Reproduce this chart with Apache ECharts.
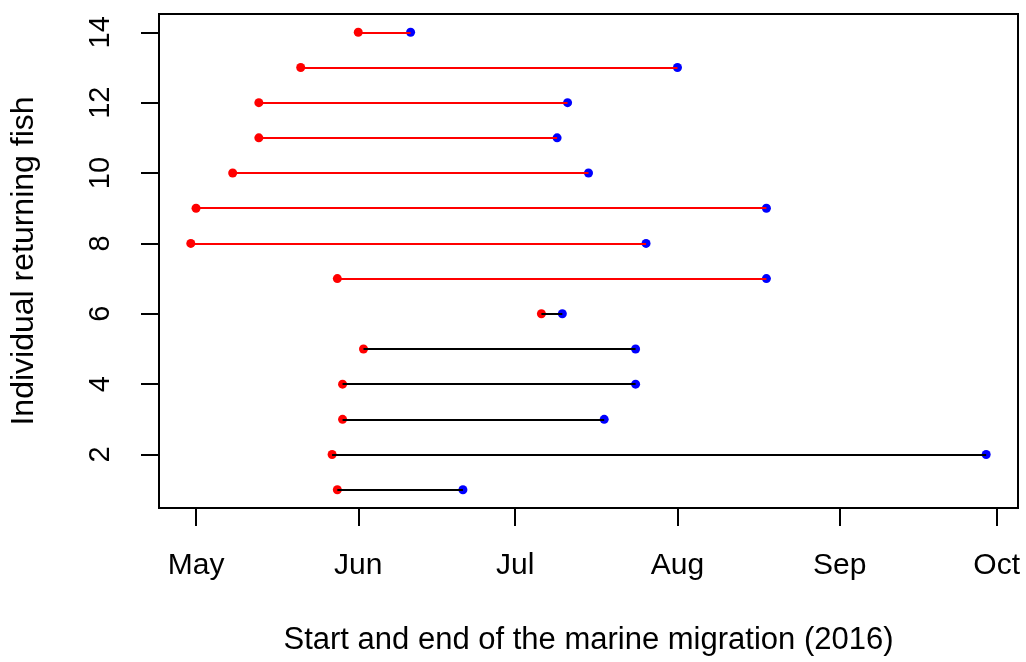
<!DOCTYPE html>
<html>
<head>
<meta charset="utf-8">
<script src="https://cdn.jsdelivr.net/npm/echarts@6/dist/echarts.min.js"></script>
<style>
html,body{margin:0;padding:0;background:#fff;}
#chart{width:1026px;height:662px;}
</style>
</head>
<body>
<div id="chart"></div>
<script>
// ---- data ----
const fishIds = [1, 2, 3, 4, 5, 6, 7, 8, 9, 10, 11, 12, 13, 14];
const startDates = ['2016-05-28','2016-05-27','2016-05-29','2016-05-29','2016-06-02','2016-07-06','2016-05-28',
                    '2016-04-30','2016-05-01','2016-05-08','2016-05-13','2016-05-13','2016-05-21','2016-06-01'];
const endDates   = ['2016-06-21','2016-09-29','2016-07-18','2016-07-24','2016-07-24','2016-07-10','2016-08-18',
                    '2016-07-26','2016-08-18','2016-07-15','2016-07-09','2016-07-11','2016-08-01','2016-06-11'];
const segmentGroup = ['A','A','A','A','A','A','B','B','B','B','B','B','B','B'];
const monthTickDates = ['2016-05-01','2016-06-01','2016-07-01','2016-08-01','2016-09-01','2016-10-01'];
const monthLabels = ['May','Jun','Jul','Aug','Sep','Oct'];
const yTickValues = [2, 4, 6, 8, 10, 12, 14];
const xTitle = 'Start and end of the marine migration (2016)';
const yTitle = 'Individual returning fish';

// ---- helpers ----
const base = Date.UTC(2016, 0, 1);
function dayNum(s) {
  const p = s.split('-').map(Number);
  return (Date.UTC(p[0], p[1] - 1, p[2]) - base) / 86400000;
}
const starts = startDates.map(dayNum);
const ends = endDates.map(dayNum);
const monthTicks = monthTickDates.map(dayNum);
const allX = starts.concat(ends);
const xMinD = Math.min.apply(null, allX), xMaxD = Math.max.apply(null, allX);
const xPad = (xMaxD - xMinD) * 0.04;
const yMinD = Math.min.apply(null, fishIds), yMaxD = Math.max.apply(null, fishIds);
const yPad = (yMaxD - yMinD) * 0.04;
const groupColor = { A: '#000000', B: '#ff0000' };

const FONT = 'Liberation Sans, Arial, sans-serif';

const chart = echarts.init(document.getElementById('chart'), null, { renderer: 'canvas' });
chart.setOption({
  animation: false,
  backgroundColor: '#ffffff',
  grid: { left: 157, top: 14, width: 861, height: 494, show: true, borderColor: '#000', borderWidth: 2, backgroundColor: 'transparent' },
  xAxis: {
    type: 'value',
    min: xMinD - xPad,
    max: xMaxD + xPad,
    splitLine: { show: false },
    axisLine: { show: false },
    axisTick: { show: true, customValues: monthTicks, length: 18, lineStyle: { color: '#000', width: 2 } },
    axisLabel: {
      customValues: monthTicks,
      formatter: function (v) { const i = monthTicks.indexOf(v); return i >= 0 ? monthLabels[i] : ''; },
      color: '#000', fontFamily: FONT, fontSize: 30, margin: 43
    },
    name: xTitle,
    nameLocation: 'middle',
    nameGap: 117,
    nameTextStyle: { color: '#000', fontFamily: FONT, fontSize: 31 }
  },
  yAxis: {
    type: 'value',
    min: yMinD - yPad,
    max: yMaxD + yPad,
    splitLine: { show: false },
    axisLine: { show: false },
    axisTick: { show: true, customValues: yTickValues, length: 18, lineStyle: { color: '#000', width: 2 } },
    axisLabel: {
      customValues: yTickValues,
      rotate: 90,
      color: '#000', fontFamily: FONT, fontSize: 29, margin: 44
    },
    name: yTitle,
    nameLocation: 'middle',
    nameGap: 119,
    nameTextStyle: { color: '#000', fontFamily: FONT, fontSize: 32 }
  },
  series: [
    {
      type: 'scatter',
      name: 'start',
      z: 2,
      symbol: 'circle',
      symbolSize: 9,
      itemStyle: { color: '#ff0000', opacity: 1 },
      data: fishIds.map(function (id, i) { return [starts[i], id]; })
    },
    {
      type: 'scatter',
      name: 'end',
      z: 2,
      symbol: 'circle',
      symbolSize: 9,
      itemStyle: { color: '#0000ff', opacity: 1 },
      data: fishIds.map(function (id, i) { return [ends[i], id]; })
    },
    {
      type: 'lines',
      coordinateSystem: 'cartesian2d',
      z: 3,
      polyline: false,
      lineStyle: { width: 2, opacity: 1 },
      data: fishIds.map(function (id, i) {
        return { coords: [[starts[i], id], [ends[i], id]], lineStyle: { color: groupColor[segmentGroup[i]] } };
      })
    }
  ]
});
</script>
</body>
</html>
